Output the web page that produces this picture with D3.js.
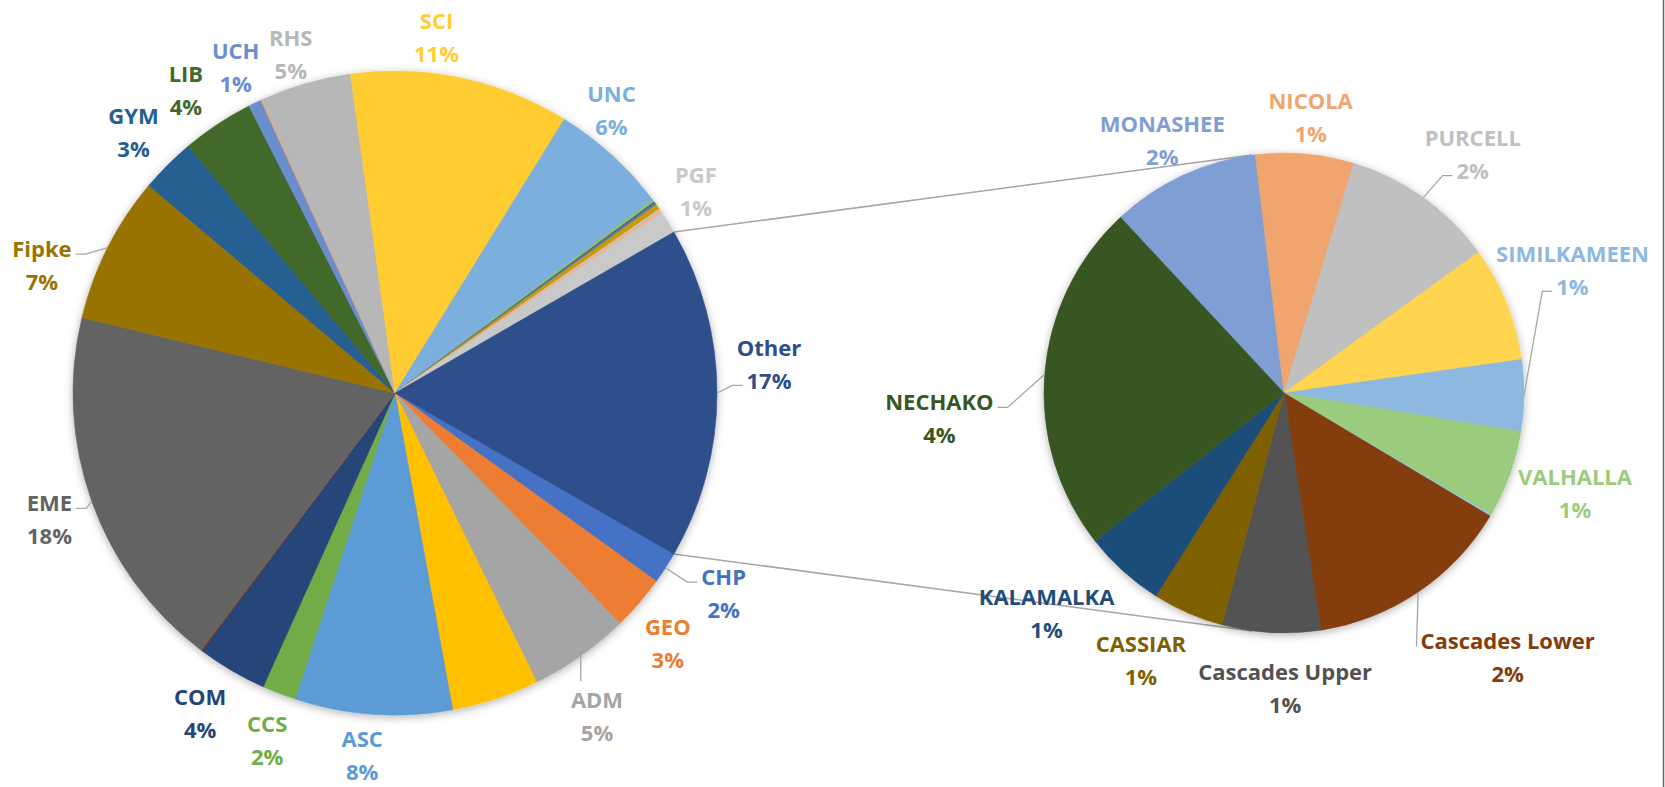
<!DOCTYPE html>
<html>
<head>
<meta charset="utf-8">
<script src="https://cdn.jsdelivr.net/npm/d3@7"></script>
<style>
  body { margin: 0; background: #fff; }
  svg text { font-family: "Open Sans", "Liberation Sans", sans-serif; font-weight: bold; }
</style>
</head>
<body>
<svg id="chart"></svg>
<script>
// main pie, clockwise from the "Other" slice ("" = slice without a label)
const mainNames = ["CHP", "GEO", "ADM", "", "ASC", "CCS", "COM", "", "EME", "Fipke", "GYM", "LIB", "UCH", "", "RHS", "SCI", "UNC",
    "", "", "", "", "", "", "", "PGF"];
const mainValues = [1.61, 2.75, 5.06, 4.39, 7.89, 1.69, 3.55, 0.06, 18.45, 7.39, 2.75, 3.61, 0.64, 0.06, 4.58, 11.03, 5.94,
    0.14, 0.07, 0.05, 0.05, 0.26, 0.07, 0.14, 1.14];
const mainColors = ["#4472C4", "#ED7D31", "#A5A5A5", "#FFC000", "#5B9BD5", "#70AD47", "#264478", "#9E480E", "#636363", "#997300",
    "#255E91", "#43682B", "#698ED0", "#F1975A", "#B7B7B7", "#FFCD33", "#7CAFDD",
    "#8CC168", "#335AA1", "#7F7F7F", "#4472C4", "#CC9A00", "#B4C7E7", "#F4B183", "#C9C9C9"];

// second pie (the "Other" slice split up), clockwise from MONASHEE
const subNames = ["MONASHEE", "NICOLA", "PURCELL", "", "SIMILKAMEEN", "VALHALLA", "", "Cascades Lower", "Cascades Upper",
    "CASSIAR", "KALAMALKA", "NECHAKO"];
const subValues = [1.67, 1.10, 1.72, 1.29, 0.80, 0.98, 0.02, 2.33, 1.10, 0.80, 0.91, 3.94];
const subColors = ["#7F9ED4", "#F0A46E", "#C0C0C0", "#FFD44F", "#8DB8E0", "#9BCB7B", "#9DC3E6", "#843C0C", "#525252",
    "#7F6000", "#1F4E79", "#385723"];

const otherName = "Other";
const otherColor = "#2D4F8C";

// layout
const W = 1665, H = 787;
const MAIN = { cx: 395, cy: 393, r: 322 };
const SUB = { cx: 1284, cy: 393, r: 240, start: 317.05 };
const GAP = 30;        // label distance outside the rim
const LINE = 33;       // distance between name and percent lines
const FONT = "22px";
const nudge = {
    "CHP": [33, 8], "GEO": [6, 20], "ADM": [-1, 34.5], "ASC": [-9, 10], "CCS": [-1, 18], "COM": [-16, 16],
    "EME": [-14, 7], "Fipke": [-39, 30], "GYM": [-13, -12.5], "LIB": [-15, -10], "UCH": [-6, -10], "RHS": [-6, -1.5],
    "SCI": [-31, -12.5], "UNC": [-21, -24], "PGF": [2.5, -16], "Other": [22, -29.6],
    "MONASHEE": [-8, -9], "NICOLA": [3, -7.6], "PURCELL": [32, -19.5], "SIMILKAMEEN": [18.5, -126.5],
    "VALHALLA": [37, 8.4], "Cascades Lower": [72.7, 39.5], "Cascades Upper": [15.6, 24.4], "CASSIAR": [-35, 19],
    "KALAMALKA": [-56.5, 19], "NECHAKO": [-75.4, 45.5]
};
const withLeader = new Set(["Fipke", "EME", "Other", "CHP", "ADM", "PURCELL", "SIMILKAMEEN", "NECHAKO", "Cascades Lower"]);

let svg = d3.select("#chart").attr("width", W).attr("height", H);

svg.append("defs").append("filter").attr("id", "soft")
    .attr("x", "-10%").attr("y", "-10%").attr("width", "120%").attr("height", "120%")
    .append("feDropShadow")
    .attr("dx", 0).attr("dy", 2).attr("stdDeviation", 4)
    .attr("flood-color", "#000").attr("flood-opacity", 0.3);

const otherValue = d3.sum(subValues);
const total = d3.sum(mainValues) + otherValue;
const pct = v => Math.round(v / total * 100) + "%";

let mainData = mainNames.map((name, i) => ({ name: name, value: mainValues[i], color: mainColors[i] }));
mainData.push({ name: otherName, value: otherValue, color: otherColor });
const otherSpan = otherValue / total * 2 * Math.PI;
const mainStart = Math.PI / 2 + otherSpan / 2;
const mainArcs = d3.pie().sort(null).value(d => d.value)
    .startAngle(mainStart).endAngle(mainStart + 2 * Math.PI)(mainData);

let subData = subNames.map((name, i) => ({ name: name, value: subValues[i], color: subColors[i] }));
const subStart = SUB.start * Math.PI / 180;
const subArcs = d3.pie().sort(null).value(d => d.value)
    .startAngle(subStart).endAngle(subStart + 2 * Math.PI)(subData);

let polar = (P, rad, a) => [P.cx + rad * Math.sin(a), P.cy - rad * Math.cos(a)];

// connector lines: from the edges of "Other" to the tangent points of the second pie
function tangent(p, C, upper) {
    const dx = p[0] - C.cx, dy = p[1] - C.cy;
    const d = Math.hypot(dx, dy);
    const th = Math.atan2(dy, dx), al = Math.acos(C.r / d);
    const t1 = [C.cx + C.r * Math.cos(th + al), C.cy + C.r * Math.sin(th + al)];
    const t2 = [C.cx + C.r * Math.cos(th - al), C.cy + C.r * Math.sin(th - al)];
    return upper ? (t1[1] < t2[1] ? t1 : t2) : (t1[1] > t2[1] ? t1 : t2);
}
const otherArc = mainArcs[mainArcs.length - 1];
const pTop = polar(MAIN, MAIN.r, otherArc.startAngle);
const pBot = polar(MAIN, MAIN.r, otherArc.endAngle);
[[pTop, tangent(pTop, SUB, true)], [pBot, tangent(pBot, SUB, false)]].forEach(seg => {
    svg.append("line")
        .attr("x1", seg[0][0]).attr("y1", seg[0][1])
        .attr("x2", seg[1][0]).attr("y2", seg[1][1])
        .style("stroke", "#A6A6A6").style("stroke-width", 1.5);
});

function drawPie(arcs, P) {
    const arc = d3.arc().innerRadius(0).outerRadius(P.r);
    const g = svg.append("g").attr("transform", `translate(${P.cx},${P.cy})`).attr("filter", "url(#soft)");
    g.selectAll("path").data(arcs).join("path")
        .attr("d", arc)
        .attr("fill", d => d.data.color)
        .attr("stroke", d => d.data.color)
        .attr("stroke-width", 0.6);
}

function drawLabels(arcs, P) {
    arcs.filter(d => d.data.name !== "").forEach(d => {
        const m = (d.startAngle + d.endAngle) / 2;
        const nd = nudge[d.data.name] || [0, 0];
        const a = polar(P, P.r + GAP, m);
        const lx = a[0] + nd[0], ly = a[1] + nd[1];
        const t1 = svg.append("text")
            .attr("x", lx).attr("y", ly - LINE / 2)
            .attr("text-anchor", "middle").attr("dominant-baseline", "central")
            .style("font-size", FONT).style("fill", d.data.color)
            .text(d.data.name);
        const t2 = svg.append("text")
            .attr("x", lx).attr("y", ly + LINE / 2)
            .attr("text-anchor", "middle").attr("dominant-baseline", "central")
            .style("font-size", FONT).style("fill", d.data.color)
            .text(pct(d.data.value));

        if (!withLeader.has(d.data.name)) return;
        const rim = polar(P, P.r, m);
        const w1 = t1.node().getComputedTextLength();
        let pts;
        if (rim[0] > lx - w1 / 2 && rim[0] < lx + w1 / 2 && ly > rim[1]) {
            // label straight below the slice
            pts = [rim, [rim[0], ly - LINE - 1]];
        } else {
            const lineY = Math.max(ly - 10, Math.min(ly + 22, rim[1]));
            const w = lineY < ly + 3 ? w1 : t2.node().getComputedTextLength();
            const right = lx > rim[0];
            const endX = right ? lx - w / 2 - 4 : lx + w / 2 + 4;
            const elbowX = right ? endX - 10 : endX + 10;
            const ok = right ? elbowX > rim[0] + 2 : elbowX < rim[0] - 2;
            pts = ok ? [rim, [elbowX, lineY], [endX, lineY]] : [rim, [endX, lineY]];
        }
        svg.append("path")
            .attr("d", d3.line()(pts))
            .style("fill", "none").style("stroke", "#A6A6A6").style("stroke-width", 1.3);
    });
}

drawPie(mainArcs, MAIN);
drawPie(subArcs, SUB);
drawLabels(mainArcs, MAIN);
drawLabels(subArcs, SUB);

// right edge of the chart frame
svg.append("line")
    .attr("x1", W - 1.5).attr("y1", 0).attr("x2", W - 1.5).attr("y2", H)
    .style("stroke", "#666").style("stroke-width", 1.5);
</script>
</body>
</html>
